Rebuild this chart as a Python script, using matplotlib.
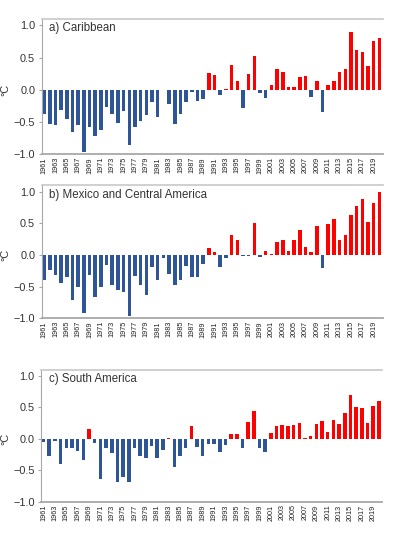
import numpy as np
import matplotlib
matplotlib.use("Agg")
import matplotlib.pyplot as plt

years = list(range(1961, 2021))

caribbean = [-0.37, -0.53, -0.54, -0.32, -0.46, -0.66, -0.55, -0.97, -0.57, -0.72,
             -0.63, -0.27, -0.37, -0.51, -0.33, -0.85, -0.57, -0.48, -0.39, -0.19,
             -0.42, 0.00, -0.22, -0.53, -0.38, -0.19, -0.03, -0.17, -0.14, 0.26,
             0.23, -0.08, 0.02, 0.38, 0.13, -0.28, 0.24, 0.52, -0.05, -0.12,
             0.08, 0.33, 0.28, 0.05, 0.05, 0.20, 0.22, -0.11, 0.13, -0.35,
             0.07, 0.14, 0.28, 0.32, 0.89, 0.62, 0.59, 0.37, 0.75, 0.81]

mexico_ca = [-0.40, -0.23, -0.31, -0.44, -0.35, -0.71, -0.50, -0.91, -0.32, -0.66,
             -0.50, -0.16, -0.47, -0.55, -0.58, -0.96, -0.33, -0.48, -0.63, -0.19,
             -0.39, -0.04, -0.30, -0.48, -0.39, -0.17, -0.35, -0.34, -0.14, 0.11,
             0.04, -0.19, -0.05, 0.32, 0.23, -0.01, -0.01, 0.51, -0.03, 0.06,
             0.02, 0.21, 0.24, 0.06, 0.23, 0.40, 0.12, 0.05, 0.46, -0.20,
             0.49, 0.57, 0.23, 0.32, 0.64, 0.78, 0.88, 0.52, 0.82, 0.99]

south_am = [-0.05, -0.28, -0.04, -0.40, -0.15, -0.14, -0.20, -0.34, 0.15, -0.07,
            -0.64, -0.15, -0.23, -0.69, -0.60, -0.68, -0.15, -0.28, -0.30, -0.11,
            -0.31, -0.18, 0.015, -0.44, -0.27, -0.15, 0.21, -0.13, -0.28, -0.08,
            -0.08, -0.21, -0.10, 0.08, 0.07, -0.15, 0.27, 0.44, -0.15, -0.21,
            0.09, 0.21, 0.22, 0.20, 0.22, 0.25, 0.015, 0.04, 0.23, 0.28,
            0.11, 0.30, 0.23, 0.41, 0.69, 0.51, 0.49, 0.25, 0.53, 0.61]

titles = ["a) Caribbean", "b) Mexico and Central America", "c) South America"]
series = [caribbean, mexico_ca, south_am]
tick_years = list(range(1961, 2020, 2))

BLUE = "#2E5597"
RED = "#FF0000"
GRAY = "#A8A8A8"
SANS = ["Liberation Sans", "DejaVu Sans"]

fig = plt.figure(figsize=(3.97, 5.43), dpi=100)
W, H = 397.0, 543.0
# (left_px, right_px, y_top(1.1)_px, y_bottom(-1.0)_px)
boxes = [(41.5, 382.5, 18.9, 154.3),
         (41.5, 382.5, 185.4, 318.3),
         (41.0, 382.0, 369.7, 501.7)]

for (l, r, t, b), vals, title in zip(boxes, series, titles):
    ax = fig.add_axes([l / W, 1 - b / H, (r - l) / W, (b - t) / H])
    vals = np.array(vals)
    colors = [RED if v > 0 else BLUE for v in vals]
    ax.bar(years, vals, width=0.62, color=colors, linewidth=0)
    ax.set_xlim(1960.55, 2020.55)
    ax.set_ylim(-1.0, 1.1)
    ax.set_yticks([-1.0, -0.5, 0.0, 0.5, 1.0])
    ax.set_yticklabels(["\u22121.0", "\u22120.5", "0.0", "0.5", "1.0"],
                       fontsize=7.8, family=SANS, color="#333333")
    ax.set_xticks(tick_years)
    ax.set_xticklabels([str(y) for y in tick_years], rotation=90, fontsize=5.2,
                       family=["Liberation Sans Narrow", "Liberation Sans", "DejaVu Sans"],
                       color="#222222")
    ax.tick_params(axis="y", length=2.5, width=0.8, color=GRAY, pad=2)
    ax.tick_params(axis="x", length=0, pad=2)
    ax.spines["right"].set_visible(False)
    ax.spines["left"].set_color(GRAY)
    ax.spines["left"].set_linewidth(0.8)
    ax.spines["top"].set_color("#C8C8C8")
    ax.spines["top"].set_linewidth(1.2)
    ax.spines["bottom"].set_color(GRAY)
    ax.spines["bottom"].set_linewidth(1.3)
    ax.set_ylabel("°C", fontsize=7.8, family=SANS, color="#333333")
    ax.yaxis.set_label_coords((10.5 - l) / (r - l), 0.5 * 2.0 / 2.1 * 1.0 + 0.0)
    ax.text(0.022, 0.93, title, transform=ax.transAxes, fontsize=8.3,
            family=SANS, color="#333333", va="center", ha="left")

fig.savefig("out.png", dpi=100)
